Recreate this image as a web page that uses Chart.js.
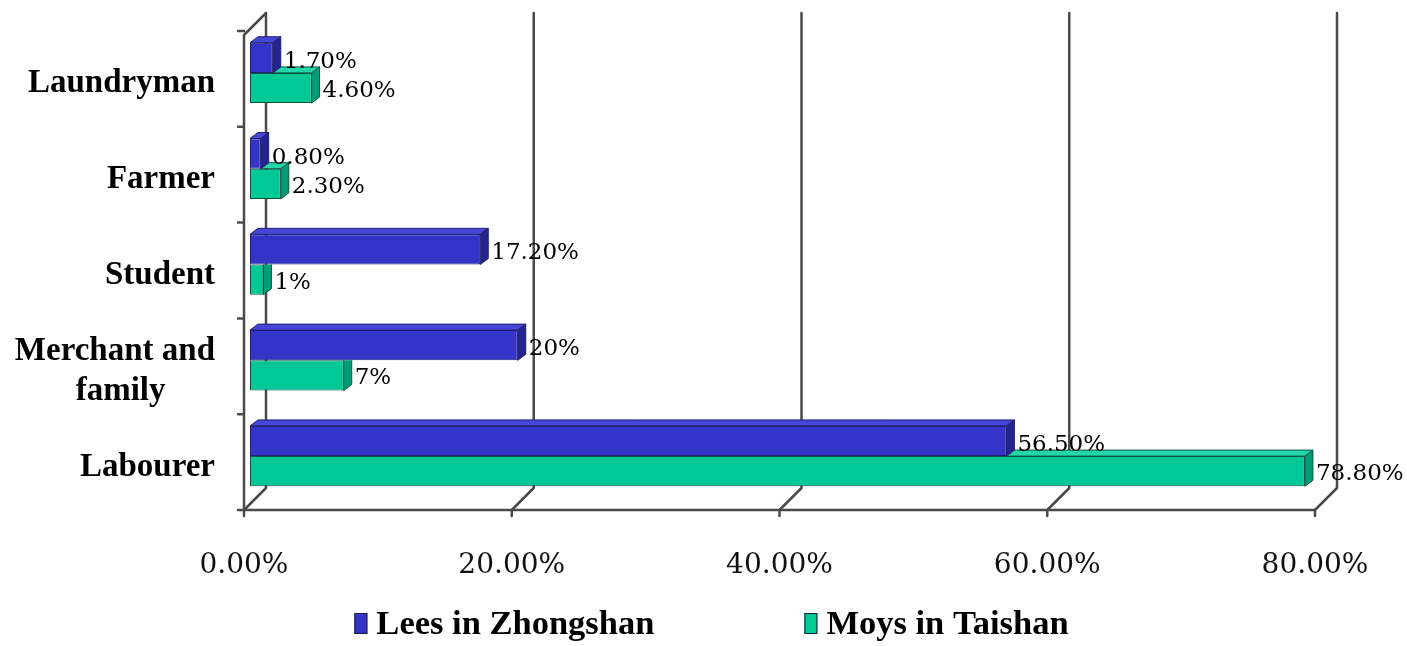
<!DOCTYPE html>
<html>
<head>
<meta charset="utf-8">
<script src="https://cdn.jsdelivr.net/npm/chart.js@4"></script>
<style>
  html, body { margin: 0; background: #fff; }
</style>
</head>
<body>
<canvas id="c" width="1407" height="646"></canvas>
<script>
'use strict';

// --- data ---
const categories = ['Laundryman', 'Farmer', 'Student', ['Merchant and', 'family      '], 'Labourer'];
const seriesNames = ['Lees in Zhongshan', 'Moys in Taishan'];
const lees = [1.7, 0.8, 17.2, 20, 56.5];
const moys = [4.6, 2.3, 1, 7, 78.8];
const leesText = ['1.70%', '0.80%', '17.20%', '20%', '56.50%'];
const moysText = ['4.60%', '2.30%', '1%', '7%', '78.80%'];
const xMax = 80;
const xStep = 20;

// --- look ---
const SERIF = "'Liberation Serif', 'Times New Roman', serif";
const BLUE = '#3434c8', BLUE_TOP = '#4646d6', BLUE_SIDE = '#24248f', BLUE_EDGE = '#20206e';
const GREEN = '#00c896', GREEN_TOP = '#22d8aa', GREEN_SIDE = '#009c76', GREEN_EDGE = '#0b5443';
const DX = 8, DY = 6;                 // bevel depth of each bar
const WALL_FRONT = 6, WALL_BACK = 16; // frame offset from the bar plane

function poly(ctx, pts, fill, stroke) {
  ctx.beginPath();
  pts.forEach((p, i) => i ? ctx.lineTo(p[0], p[1]) : ctx.moveTo(p[0], p[1]));
  ctx.closePath();
  ctx.fillStyle = fill; ctx.fill();
  if (stroke) { ctx.strokeStyle = stroke; ctx.lineWidth = 1; ctx.stroke(); }
}

// back wall grid + floor edge, drawn before the bars
const frame = {
  id: 'frame',
  beforeDatasetsDraw(chart) {
    const { ctx, chartArea: a, scales: { x } } = chart;
    const fb = a.bottom + WALL_FRONT, bb = a.bottom - WALL_BACK;
    const topB = a.top - 12, topF = topB + WALL_FRONT + WALL_BACK;
    ctx.save();
    ctx.strokeStyle = '#4a4a4a'; ctx.lineWidth = 2.5; ctx.lineJoin = 'round'; ctx.lineCap = 'round';
    x.ticks.forEach(t => {
      const p = x.getPixelForValue(t.value);
      ctx.beginPath();
      ctx.moveTo(p + WALL_BACK, topB);
      ctx.lineTo(p + WALL_BACK, bb);
      ctx.lineTo(p - WALL_FRONT, fb);
      ctx.lineTo(p - WALL_FRONT, fb + 6);
      ctx.stroke();
    });
    const x0 = x.getPixelForValue(0) - WALL_FRONT, x1 = x.getPixelForValue(xMax) - WALL_FRONT;
    ctx.beginPath();
    ctx.moveTo(x0 + WALL_FRONT + WALL_BACK, topB);
    ctx.lineTo(x0, topF);
    ctx.lineTo(x0, fb);
    ctx.lineTo(x1, fb);
    const band = (a.bottom - a.top) / categories.length;
    for (let i = 0; i <= categories.length; i++) {
      const yy = a.top + i * band + WALL_FRONT;
      ctx.moveTo(x0 - 6, yy); ctx.lineTo(x0, yy);
    }
    ctx.stroke();
    ctx.restore();
  }
};

// top / right faces of the bars and the value labels
const bevel = {
  id: 'bevel',
  afterDatasetsDraw(chart) {
    const { ctx, width, height } = chart;
    const mb = chart.getDatasetMeta(0).data, mg = chart.getDatasetMeta(1).data;
    ctx.save();
    mb.forEach((b, i) => {
      const g = mg[i];
      const bt = b.y - b.height / 2, bbt = b.y + b.height / 2;
      const gt = g.y - g.height / 2, gbt = g.y + g.height / 2;
      if (g.x > b.x) {
        poly(ctx, [[b.x, gt], [g.x, gt], [g.x + DX, gt - DY], [b.x + DX, gt - DY]], GREEN_TOP, GREEN_EDGE);
        poly(ctx, [[g.x, gt], [g.x + DX, gt - DY], [g.x + DX, gbt - DY], [g.x, gbt]], GREEN_SIDE, GREEN_EDGE);
      } else {
        ctx.save();
        ctx.beginPath(); ctx.rect(0, gt, width, height); ctx.clip();
        poly(ctx, [[g.x, gt], [g.x + DX, gt - DY], [g.x + DX, gbt - DY], [g.x, gbt]], GREEN_SIDE, GREEN_EDGE);
        ctx.restore();
      }
      poly(ctx, [[b.base, bt], [b.x, bt], [b.x + DX, bt - DY], [b.base + DX, bt - DY]], BLUE_TOP, BLUE_EDGE);
      poly(ctx, [[b.x, bt], [b.x + DX, bt - DY], [b.x + DX, bbt - DY], [b.x, bbt]], BLUE_SIDE, BLUE_EDGE);
    });
    ctx.fillStyle = '#000';
    ctx.font = "23px 'DejaVu Serif', serif";
    ctx.textAlign = 'left'; ctx.textBaseline = 'middle';
    mb.forEach((b, i) => ctx.fillText(leesText[i], b.x + DX + 3, b.y + 4));
    mg.forEach((g, i) => ctx.fillText(moysText[i], g.x + DX + 3, g.y + 3));
    ctx.restore();
  }
};

// legend at the foot
const footLegend = {
  id: 'footLegend',
  afterDraw(chart) {
    const ctx = chart.ctx, ds = chart.data.datasets;
    const bw = 13, bh = 21, gap = 9, spacing = 150, base = 634;
    ctx.save();
    ctx.font = 'bold 34.5px ' + SERIF;
    const widths = ds.map(d => bw + gap + ctx.measureText(d.label).width);
    const total = widths.reduce((s, w) => s + w, 0) + spacing * (ds.length - 1);
    let x = chart.width / 2 + 8 - total / 2;
    ds.forEach((d, i) => {
      ctx.fillStyle = d.backgroundColor;
      ctx.fillRect(x, base - bh, bw, bh);
      ctx.strokeStyle = '#1c1c3c'; ctx.lineWidth = 1;
      ctx.strokeRect(x + 0.5, base - bh + 0.5, bw - 1, bh - 1);
      ctx.fillStyle = '#000';
      ctx.textBaseline = 'alphabetic'; ctx.textAlign = 'left';
      ctx.fillText(d.label, x + bw + gap, base);
      x += widths[i] + spacing;
    });
    ctx.restore();
  }
};

new Chart(document.getElementById('c'), {
  type: 'bar',
  data: {
    labels: categories,
    datasets: [
      { label: seriesNames[0], data: lees, backgroundColor: BLUE, borderColor: BLUE_EDGE, borderWidth: 1, borderSkipped: false },
      { label: seriesNames[1], data: moys, backgroundColor: GREEN, borderColor: GREEN_EDGE, borderWidth: 1, borderSkipped: false }
    ]
  },
  options: {
    indexAxis: 'y',
    responsive: false,
    animation: false,
    categoryPercentage: 0.63,
    barPercentage: 1,
    layout: { padding: { top: 25, right: 86, bottom: 0, left: 0 } },
    plugins: { legend: { display: false }, tooltip: { enabled: false } },
    scales: {
      x: {
        min: 0, max: xMax,
        grid: { display: false, drawTicks: false },
        border: { display: false },
        afterFit: s => { s.height = 142; s.paddingLeft = 0; s.paddingRight = 0; },
        ticks: {
          stepSize: xStep,
          padding: 45,
          labelOffset: -WALL_FRONT,
          color: '#111',
          font: { family: "'DejaVu Serif', serif", size: 28 },
          callback: v => v.toFixed(2) + '%'
        }
      },
      y: {
        grid: { display: false, drawTicks: false },
        border: { display: false },
        afterFit: s => { s.width = 250; s.paddingTop = 0; s.paddingBottom = 0; },
        ticks: {
          padding: 35,
          labelOffset: 11,
          color: '#000',
          font: { family: SERIF, size: 33, weight: 'bold' }
        }
      }
    }
  },
  plugins: [frame, bevel, footLegend]
});
</script>
</body>
</html>
